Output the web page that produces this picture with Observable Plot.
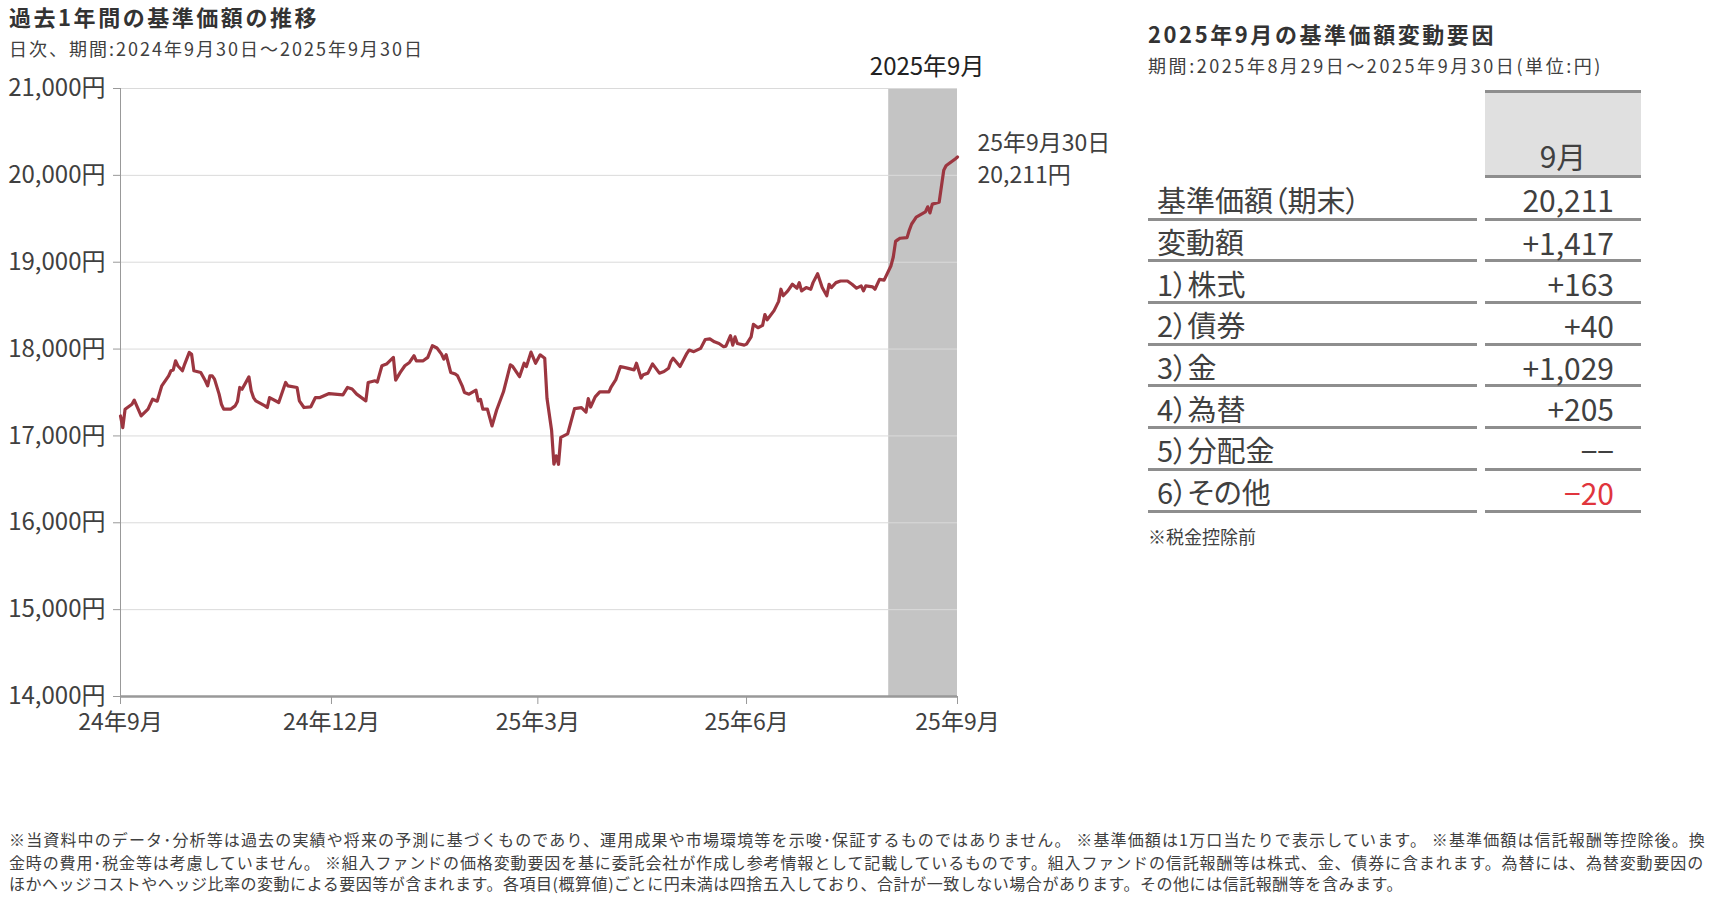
<!DOCTYPE html>
<html><head><meta charset="utf-8">
<script src="https://cdn.jsdelivr.net/npm/d3@7"></script>
<script src="https://cdn.jsdelivr.net/npm/@observablehq/plot@0.6"></script>
<style>
body{margin:0;background:#fff;font-family:"Noto Sans CJK JP","Noto Sans",sans-serif;color:#404040;}
#page{position:relative;width:1715px;height:897px;overflow:hidden;}
.abs{position:absolute;white-space:nowrap;line-height:1;}
.title{font-size:22px;font-weight:700;color:#333;}
.sub{font-size:18px;color:#404040;}
.foot{font-size:16px;color:#404040;}
#chart{position:absolute;left:0;top:50px;}
#tbl{position:absolute;left:1148px;top:90px;width:493px;}
.row{display:grid;grid-template-columns:329px 156px;column-gap:8px;}
.hdr{height:88px;}
.hcell{box-sizing:border-box;height:88px;background:#e0e0e0;border-top:3px solid #8e8e8e;border-bottom:3px solid #8e8e8e;font-size:30px;text-align:center;padding-top:47px;line-height:1;}
.cell{box-sizing:border-box;height:41.7px;border-bottom:3px solid #8e8e8e;line-height:1;display:flex;align-items:center;padding-top:3px;white-space:nowrap;}
.row.first .cell{height:42.7px;}
.lab{padding-left:9px;font-size:29px;font-feature-settings:"palt";}
.val{justify-content:flex-end;padding-right:27px;font-size:30px;}
</style></head>
<body><div id="page">
<div class="abs title" style="left:9px;top:5px;" id="t1" data-w="310"></div>
<div class="abs sub" style="left:9px;top:39px;" id="s1" data-w="415"></div>
<div id="chart"></div>
<div class="abs title" style="left:1148px;top:22px;" id="t2" data-w="348"></div>
<div class="abs sub" style="left:1148px;top:56px;" id="s2" data-w="455"></div>
<div id="tbl"></div>
<div class="abs" style="left:1148px;top:527px;font-size:18px;" id="note"></div>
<div class="abs foot" style="left:9px;top:831px;" id="f1" data-w="1697"></div>
<div class="abs foot" style="left:9px;top:854px;" id="f2" data-w="1695"></div>
<div class="abs foot" style="left:9px;top:875px;" id="f3" data-w="1394"></div>
</div>
<script>
// ---- texts ----
const chartTitle = "過去1年間の基準価額の推移";
const chartSubtitle = "日次、期間:2024年9月30日～2025年9月30日";
const tableTitle = "2025年9月の基準価額変動要因";
const tableSubtitle = "期間:2025年8月29日～2025年9月30日(単位:円)";
const tableHeader = "9月";
const tableNote = "※税金控除前";
const footLines = [
  "※当資料中のデータ･分析等は過去の実績や将来の予測に基づくものであり、運用成果や市場環境等を示唆･保証するものではありません。 ※基準価額は1万口当たりで表示しています。 ※基準価額は信託報酬等控除後。換",
  "金時の費用･税金等は考慮していません。 ※組入ファンドの価格変動要因を基に委託会社が作成し参考情報として記載しているものです。組入ファンドの信託報酬等は株式、金、債券に含まれます。為替には、為替変動要因の",
  "ほかヘッジコストやヘッジ比率の変動による要因等が含まれます。各項目(概算値)ごとに円未満は四捨五入しており、合計が一致しない場合があります。その他には信託報酬等を含みます。"
];

// ---- axis ----
const xDomain = ["2024-09-30", "2025-09-30"];
const xTickDates = ["2024-09-30", "2024-12-31", "2025-03-31", "2025-06-30", "2025-09-30"];
const xTickLabels = ["24年9月", "24年12月", "25年3月", "25年6月", "25年9月"];
const yDomain = [14000, 21000];
const yTicks = [14000, 15000, 16000, 17000, 18000, 19000, 20000, 21000];
const bandStart = "2025-08-31";
const bandEnd = "2025-09-30";
const bandLabel = "2025年9月";
const endDateLabel = "25年9月30日";

// ---- series (基準価額, 円) ----
const navDates = [
"2024-09-30","2024-10-01","2024-10-02","2024-10-05","2024-10-06","2024-10-09","2024-10-12","2024-10-14","2024-10-16","2024-10-18","2024-10-21","2024-10-22","2024-10-23","2024-10-24","2024-10-25","2024-10-27","2024-10-28","2024-10-30","2024-10-31",
"2024-11-01","2024-11-04","2024-11-06","2024-11-07","2024-11-08","2024-11-09","2024-11-10","2024-11-12","2024-11-13","2024-11-14","2024-11-17","2024-11-19","2024-11-20","2024-11-21","2024-11-22","2024-11-25","2024-11-26","2024-11-27","2024-11-28",
"2024-12-02","2024-12-03","2024-12-04","2024-12-08","2024-12-11","2024-12-12","2024-12-16","2024-12-17","2024-12-19","2024-12-22","2024-12-24","2024-12-26","2024-12-30",
"2025-01-05","2025-01-07","2025-01-09","2025-01-11","2025-01-15","2025-01-16","2025-01-19","2025-01-20","2025-01-22","2025-01-24","2025-01-27","2025-01-28","2025-01-30",
"2025-02-01","2025-02-03","2025-02-05","2025-02-06","2025-02-09","2025-02-11","2025-02-13","2025-02-15","2025-02-17","2025-02-18","2025-02-19","2025-02-21","2025-02-23","2025-02-24","2025-02-26","2025-02-27",
"2025-03-01","2025-03-04","2025-03-05","2025-03-06","2025-03-07","2025-03-09","2025-03-11","2025-03-13","2025-03-16","2025-03-19","2025-03-20","2025-03-23","2025-03-25","2025-03-26","2025-03-28","2025-03-30",
"2025-04-01","2025-04-03","2025-04-04","2025-04-06","2025-04-07","2025-04-08","2025-04-09","2025-04-10","2025-04-13","2025-04-14","2025-04-16","2025-04-19","2025-04-21","2025-04-22","2025-04-23","2025-04-25","2025-04-27",
"2025-05-01","2025-05-02","2025-05-04","2025-05-06","2025-05-09","2025-05-12","2025-05-13","2025-05-15","2025-05-16","2025-05-18","2025-05-20","2025-05-23","2025-05-25","2025-05-27","2025-05-28","2025-05-29",
"2025-06-01","2025-06-04","2025-06-05","2025-06-07","2025-06-10","2025-06-12","2025-06-14","2025-06-16","2025-06-18","2025-06-20","2025-06-21","2025-06-23","2025-06-24","2025-06-25","2025-06-26","2025-06-29","2025-06-30",
"2025-07-02","2025-07-03","2025-07-05","2025-07-07","2025-07-08","2025-07-09","2025-07-12","2025-07-14","2025-07-15","2025-07-16","2025-07-18","2025-07-20","2025-07-22","2025-07-23","2025-07-24","2025-07-26","2025-07-28","2025-07-29","2025-07-31",
"2025-08-02","2025-08-04","2025-08-05","2025-08-06","2025-08-08","2025-08-10","2025-08-13","2025-08-15","2025-08-17","2025-08-19","2025-08-20","2025-08-21","2025-08-24","2025-08-25","2025-08-27","2025-08-29",
"2025-09-01","2025-09-02","2025-09-03","2025-09-04","2025-09-05","2025-09-08","2025-09-09","2025-09-10","2025-09-11","2025-09-12","2025-09-16","2025-09-17","2025-09-18","2025-09-19","2025-09-22","2025-09-24","2025-09-25","2025-09-26","2025-09-29","2025-09-30"
];
const navValues = [
17230,17096,17308,17365,17412,17230,17308,17423,17400,17577,17692,17750,17760,17865,17808,17750,17827,17962,17940,
17750,17731,17635,17577,17692,17692,17654,17481,17365,17308,17308,17346,17396,17558,17538,17680,17520,17442,17404,
17346,17327,17442,17385,17615,17577,17558,17404,17327,17335,17442,17442,17488,
17473,17558,17540,17481,17404,17615,17635,17620,17808,17827,17904,17642,17731,
17808,17846,17923,17865,17865,17904,18038,18012,17942,17885,17935,17731,17712,17692,17577,17500,
17481,17527,17404,17420,17308,17308,17115,17295,17508,17818,17800,17682,17837,17798,17965,17837,
17934,17895,17430,17062,16674,16771,16674,16984,17023,17120,17314,17326,17275,17430,17333,17450,17508,
17508,17566,17648,17799,17780,17761,17837,17667,17705,17723,17830,17723,17742,17780,17856,17894,
17799,17951,17989,17970,18008,18110,18117,18083,18064,18027,18034,18155,18045,18140,18064,18045,18057,
18140,18284,18246,18273,18398,18337,18443,18549,18689,18614,18670,18746,18701,18765,18670,18708,18689,18765,18867,
18708,18614,18746,18708,18765,18784,18784,18746,18701,18727,18670,18727,18716,18689,18803,18794,
18960,19060,19240,19260,19276,19283,19370,19440,19480,19520,19579,19638,19567,19669,19690,20059,20110,20130,20189,20211
];

// ---- table ----
const factorLabels = ["基準価額（期末）", "変動額", "1）株式", "2）債券", "3）金", "4）為替", "5）分配金", "6）その他"];
const factorValues = [20211, 1417, 163, 40, 1029, 205, null, -20];

// ---- build ----
document.getElementById("t1").textContent = chartTitle;
document.getElementById("s1").textContent = chartSubtitle;
document.getElementById("t2").textContent = tableTitle;
document.getElementById("s2").textContent = tableSubtitle;
document.getElementById("note").textContent = tableNote;
["f1","f2","f3"].forEach((id, i) => document.getElementById(id).textContent = footLines[i]);

const fmt = d3.format(",");
const data = navDates.map((d, i) => ({date: new Date(d), value: navValues[i]}));
const last = data[data.length - 1];
const tickMap = new Map(xTickDates.map((d, i) => [+new Date(d), xTickLabels[i]]));
const bStart = new Date(bandStart), bEnd = new Date(bandEnd);

const chart = Plot.plot({
  width: 1130, height: 700,
  marginTop: 38, marginBottom: 54, marginLeft: 120, marginRight: 173,
  style: {fontFamily: '"Noto Sans CJK JP", sans-serif', fontSize: "22px", color: "#404040", background: "transparent", overflow: "visible"},
  x: {type: "utc", domain: xDomain.map(d => new Date(d))},
  y: {domain: yDomain},
  marks: [
    Plot.rect([{x1: bStart, x2: bEnd}], {x1: "x1", x2: "x2", y1: yDomain[0], y2: yDomain[1], fill: "#c4c4c4"}),
    Plot.gridY(yTicks, {stroke: "#dadada", strokeOpacity: 1}),
    Plot.ruleX([new Date(xDomain[0])], {stroke: "#999"}),
    Plot.ruleY([yDomain[0]], {stroke: "#999", strokeWidth: 2.5}),
    Plot.line(data, {x: "date", y: "value", stroke: "#9c3640", strokeWidth: 3.2, strokeLinejoin: "round"}),
    Plot.axisY(yTicks, {tickSize: 7, tickPadding: 8, tickFormat: d => fmt(d) + "円", stroke: "#999", fill: "#404040", fontSize: 24, label: null}),
    Plot.axisX(xTickDates.map(d => new Date(d)), {tickSize: 8, tickPadding: 9, tickFormat: d => tickMap.get(+d), stroke: "#999", fill: "#404040", fontSize: 23, label: null}),
    Plot.text([{x: new Date((+bStart + +bEnd) / 2), label: bandLabel}], {x: "x", y: yDomain[1], dx: 4, dy: -21, text: "label", fontSize: 24, fill: "#222", lineAnchor: "middle"}),
    Plot.text([last], {x: "date", y: "value", dx: 20, text: d => endDateLabel + "\n" + fmt(d.value) + "円", textAnchor: "start", lineAnchor: "middle", lineHeight: 1.38, fontSize: 23, fill: "#404040"})
  ]
});
document.getElementById("chart").appendChild(chart);

// table
const tbl = document.getElementById("tbl");
const hdr = document.createElement("div");
hdr.className = "row hdr";
hdr.innerHTML = '<div></div><div class="hcell"></div>';
hdr.querySelector(".hcell").textContent = tableHeader;
tbl.appendChild(hdr);
factorLabels.forEach((lab, i) => {
  const v = factorValues[i];
  const row = document.createElement("div");
  row.className = i === 0 ? "row first" : "row";
  const a = document.createElement("div");
  a.className = "cell lab"; a.textContent = lab;
  const b = document.createElement("div");
  b.className = "cell val";
  if (v === null) b.textContent = "−−";
  else if (i === 0) b.textContent = fmt(v);
  else if (v < 0) { b.textContent = "−" + fmt(-v); b.style.color = "#e0353d"; }
  else b.textContent = "+" + fmt(v);
  row.appendChild(a); row.appendChild(b);
  tbl.appendChild(row);
});

// fit widths
document.querySelectorAll("[data-w]").forEach(el => {
  const target = +el.dataset.w;
  const n = [...el.textContent].length;
  const w = el.getBoundingClientRect().width;
  el.style.letterSpacing = ((target - w) / n) + "px";
});
</script>
</body></html>
